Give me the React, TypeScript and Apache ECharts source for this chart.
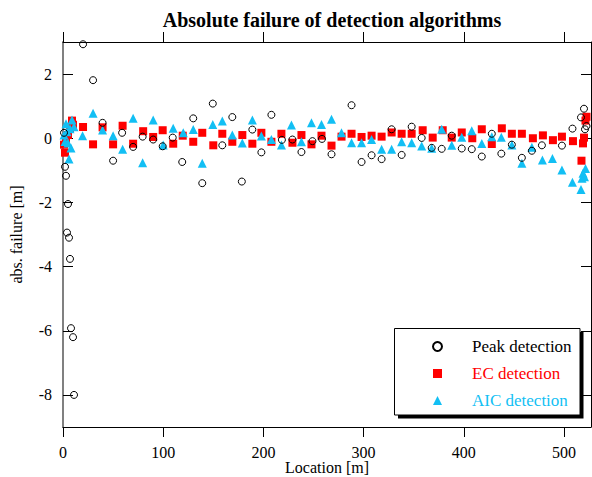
import React, { useEffect, useRef } from "react";
import * as echarts from "echarts";

const titleText = "Absolute failure of detection algorithms";
const xName = "Location [m]";
const yName = "abs. failure [m]";
const seriesNames = ["Peak detection", "EC detection", "AIC detection"];
const xTicks = [0, 100, 200, 300, 400, 500];
const yTicks = [-8, -6, -4, -2, 0, 2];

const peakLocation = [1, 2, 3, 4, 5, 6, 7, 8, 10, 11, 20, 30, 39.5, 50, 59, 70, 79.5, 90, 99.5, 109.5, 119, 130, 139, 149.5, 159, 169, 178.5, 189, 198, 208, 218.5, 229, 238, 249, 258.5, 268, 288, 298, 308, 318, 328, 338, 348, 358, 368, 378, 388, 398, 408, 418, 428, 437.5, 448, 458, 468, 478, 498, 508.5, 517, 520, 521, 522.5];
const peakFailure = [0.17, -0.89, -1.17, -2.94, -2.05, -3.1, -3.76, -5.92, -6.2, -8.0, 2.93, 1.81, 0.48, -0.7, 0.17, -0.27, 0.05, -0.04, -0.25, 0.02, -0.74, 0.62, -1.4, 1.08, -0.22, 0.66, -1.35, 0.27, -0.44, 0.73, -0.05, -0.04, -0.43, -0.09, -0.02, -0.5, 1.03, -0.74, -0.53, -0.65, 0.28, -0.52, 0.36, 0.01, -0.3, -0.33, 0.08, -0.32, -0.34, -0.57, 0.14, -0.48, -0.2, -0.61, -0.39, -0.22, -0.23, 0.3, 0.65, 0.92, 0.28, 0.38];

const ecLocation = [1, 2, 3, 5, 7, 9, 10, 20, 30, 39.5, 50, 59.5, 70, 80, 90, 99.5, 110, 119.5, 130, 139, 150, 159, 169, 179, 189, 198, 208, 218, 229, 238, 248, 258, 268, 278, 288, 298, 308, 318, 328, 338, 348, 359, 369, 379, 388, 398, 408.5, 418, 428, 438, 448, 458, 469, 479, 489, 498, 509, 517.5, 519, 520, 521.5, 522.5];
const ecFailure = [-0.2, -0.45, -0.05, 0.1, 0.3, 0.55, 0.42, 0.35, -0.19, 0.34, -0.19, 0.39, -0.17, 0.22, 0.04, 0.25, -0.17, 0.08, -0.11, 0.17, -0.22, 0.14, -0.11, 0.1, -0.17, 0.17, -0.11, 0.14, -0.14, 0.1, -0.19, 0.08, -0.23, 0.05, 0.14, 0.04, 0.08, 0.05, 0.18, 0.14, 0.14, 0.25, 0.02, 0.25, 0.02, 0.18, 0, 0.28, -0.18, 0.31, 0.14, 0.14, 0, 0.09, -0.06, 0.05, -0.09, -0.7, -0.16, 0.02, 0.55, 0.67];

const aicLocation = [1, 2, 3, 4, 5, 6, 7, 8, 9, 11, 19.5, 30, 39.5, 50, 59.5, 70, 79.5, 90, 100, 110, 120, 130, 139, 149.5, 159, 169, 179, 189, 198, 208, 218, 228, 238, 248, 258, 268, 278, 288, 298, 308, 318, 328, 338, 348, 358, 368, 378, 388, 398, 408, 418, 428, 437.5, 448, 458, 468, 478.5, 488.5, 498, 508.5, 517, 518, 519, 520.5, 521.5];
const aicFailure = [0.1, -0.1, 0.45, 0.2, -0.15, -0.65, 0.3, -0.3, 0.57, 0.36, 0.08, 0.78, 0.26, 0.08, -0.34, 0.62, -0.76, 0.57, -0.21, 0.31, 0.17, 0.27, -0.78, 0.43, 0.54, 0.1, -0.15, 0.57, 0.07, -0.04, -0.21, 0.41, -0.11, 0.48, 0.43, 0.59, 0.17, -0.14, -0.14, -0.04, -0.34, -0.34, -0.11, -0.14, -0.24, -0.31, 0.28, -0.22, 0.03, 0.23, -0.16, 0.05, 0.03, -0.21, -0.78, -0.28, -0.68, -0.63, -0.99, -1.37, -1.6, -1.25, -1.09, -1.2, -0.94];

const FONT = '"Liberation Serif", "Times New Roman", serif';
const RED = "#ff0000";
const CYAN = "#12bff4";

const pairs = (xs: number[], ys: number[]) => xs.map((x, i) => [x, ys[i]]);

export default function App() {
  const ref = useRef<HTMLDivElement>(null);
  useEffect(() => {
    if (!ref.current) return;
    const chart = echarts.init(ref.current, null, { renderer: "svg" });
    const xMin = 0, xMax = 527, yMin = -9, yMax = 3;
    const xBase = {
      type: "value",
      min: xMin,
      max: xMax,
      interval: 100,
      splitLine: { show: false },
      axisLine: { show: true, onZero: false, lineStyle: { color: "#000", width: 1 } },
      axisTick: { show: true, inside: false, length: 10, customValues: xTicks, lineStyle: { color: "#000" } },
    };
    const yBase = {
      type: "value",
      min: yMin,
      max: yMax,
      interval: 1,
      splitLine: { show: false },
      axisTick: { show: true, inside: true, length: 10, customValues: yTicks, lineStyle: { color: "#000" } },
    };
    chart.setOption({
      animation: false,
      backgroundColor: "#fff",
      title: {
        text: titleText,
        left: 327,
        top: 5,
        textAlign: "center",
        textStyle: { fontFamily: FONT, fontSize: 20, fontWeight: "bold", color: "#000" },
      },
      grid: { left: 63, right: 1, top: 42, bottom: 50, containLabel: false, outerBoundsMode: "none" },
      xAxis: [
        {
          ...xBase,
          position: "bottom",
          name: xName,
          nameLocation: "middle",
          nameGap: 32,
          nameMoveOverlap: false,
          nameTextStyle: { fontFamily: FONT, fontSize: 16, color: "#000" },
          axisLabel: { show: true, customValues: xTicks, margin: 18, fontFamily: FONT, fontSize: 16, lineHeight: 14, color: "#000" },
        },
        {
          ...xBase,
          position: "top",
          axisLabel: { show: false },
        },
      ],
      yAxis: [
        {
          ...yBase,
          position: "left",
          name: yName,
          nameLocation: "middle",
          nameGap: 39,
          nameTextStyle: { fontFamily: FONT, fontSize: 16, color: "#000" },
          axisLine: { show: true, onZero: false, lineStyle: { color: "#808080", width: 2 } },
          axisLabel: { show: true, customValues: yTicks, margin: 11, fontFamily: FONT, fontSize: 16, color: "#000" },
        },
        {
          ...yBase,
          position: "right",
          axisLine: { show: true, onZero: false, lineStyle: { color: "#000", width: 1 } },
          axisLabel: { show: false },
        },
      ],
      legend: {
        orient: "vertical",
        left: 432,
        top: 338,
        padding: 0,
        itemWidth: 9,
        itemHeight: 9,
        itemGap: 10,
        z: 10,
        textStyle: { fontFamily: FONT, fontSize: 17, lineHeight: 16, padding: [0, 0, 0, 25] },
        data: [
          { name: seriesNames[0], textStyle: { color: "#000" } },
          { name: seriesNames[1], textStyle: { color: RED } },
          { name: seriesNames[2], textStyle: { color: CYAN } },
        ],
      },
      graphic: [
        { type: "rect", z: 5, shape: { x: 398, y: 332, width: 185.5, height: 86.5 }, style: { fill: "#000" } },
        { type: "rect", z: 6, shape: { x: 394.5, y: 328.5, width: 185.5, height: 86.5 }, style: { fill: "#fff", stroke: "#000", lineWidth: 1 } },
      ],
      series: [
        {
          name: seriesNames[1],
          type: "scatter",
          symbol: "rect",
          symbolSize: 8,
          itemStyle: { color: RED, opacity: 1 },
          data: pairs(ecLocation, ecFailure),
          z: 2,
        },
        {
          name: seriesNames[2],
          type: "scatter",
          symbol: "triangle",
          symbolSize: 9,
          itemStyle: { color: CYAN, opacity: 1 },
          data: pairs(aicLocation, aicFailure),
          z: 3,
        },
        {
          name: seriesNames[0],
          type: "scatter",
          symbol: "circle",
          symbolSize: 7,
          itemStyle: { color: "rgba(255,255,255,0)", borderColor: "#000", borderWidth: 1, opacity: 1 },
          data: pairs(peakLocation, peakFailure),
          z: 4,
        },
      ],
    });
    return () => chart.dispose();
  }, []);
  return <div ref={ref} style={{ position: "fixed", left: 0, top: 0, width: 592, height: 477 }} />;
}
